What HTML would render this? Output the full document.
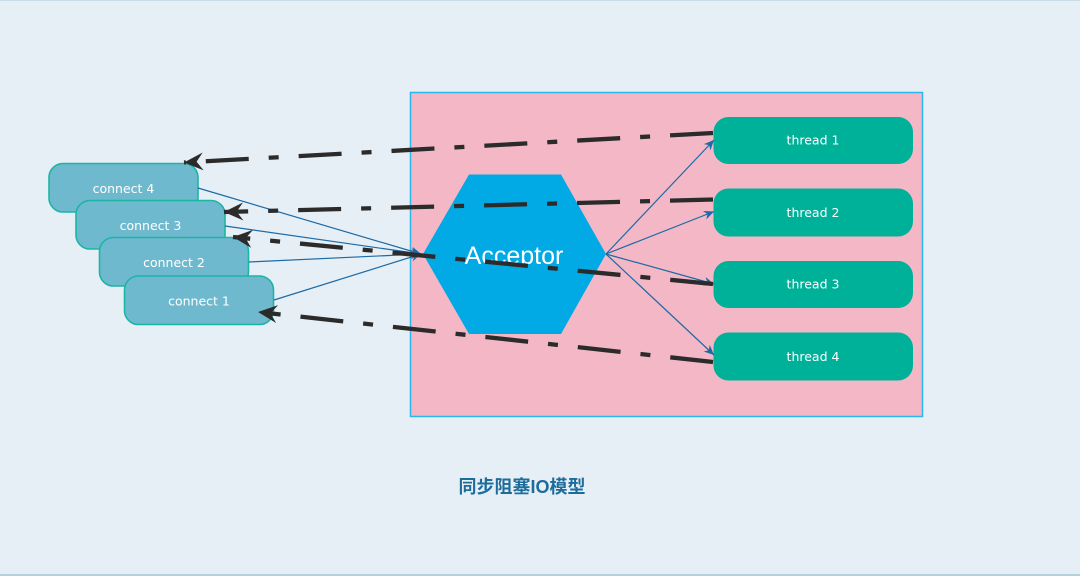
<!DOCTYPE html>
<html><head><meta charset="utf-8"><style>
html,body{margin:0;padding:0;}
body{width:1080px;height:576px;background:#e7eff6;overflow:hidden;position:relative;}
svg{position:absolute;left:0;top:0;}
</style></head><body>
<svg width="1080" height="576" viewBox="0 0 1080 576" xmlns="http://www.w3.org/2000/svg">
<defs>
<marker id="blk" markerUnits="userSpaceOnUse" markerWidth="24" markerHeight="24" refX="0" refY="0" viewBox="-18 -10 20 20" orient="auto">
<path d="M0,0 L-16,-7.5 L-10.5,0 L-16,7.5 Z" fill="#2b2b2b"/>
</marker>
<marker id="blu" markerUnits="userSpaceOnUse" markerWidth="14" markerHeight="14" refX="0" refY="0" viewBox="-12 -6 14 12" orient="auto">
<path d="M0,0 L-10,-4.5 L-7,0 L-10,4.5 Z" fill="#1c6aa6"/>
</marker>
<clipPath id="acc"><rect x="420" y="170" width="200" height="94"/></clipPath>
</defs>
<rect x="0" y="0" width="1080" height="1" fill="#c9dde8"/>
<rect x="0" y="574" width="1080" height="2" fill="#b3d0dc"/>

<!-- container -->
<rect x="410.5" y="92.5" width="512" height="324" fill="#f4b7c6" stroke="#2cb6ee" stroke-width="1.5"/>

<!-- connect boxes -->
<g fill="#6fb9cf" stroke="#1bb5a3" stroke-width="1.6">
<rect x="49" y="163.5" width="149" height="48.5" rx="14"/>
<rect x="76" y="200.5" width="149" height="48.5" rx="14"/>
<rect x="99.5" y="237.5" width="149" height="48.5" rx="14"/>
<rect x="124.5" y="276" width="149" height="48.5" rx="14"/>
</g>
<g fill="#fff" font-family="'DejaVu Sans',sans-serif" font-size="12.5" text-anchor="middle">
<text x="123.5" y="193">connect 4</text>
<text x="150.5" y="230">connect 3</text>
<text x="174" y="267">connect 2</text>
<text x="199" y="305.5">connect 1</text>
</g>

<!-- hexagon -->
<polygon points="423,254 469,174.5 561,174.5 606,254 561,334 469,334" fill="#02aae5"/>
<text x="514" y="264" clip-path="url(#acc)" fill="#fff" font-family="'Liberation Sans',sans-serif" font-size="25" text-anchor="middle">Acceptor</text>

<!-- threads -->
<g fill="#00b199">
<rect x="713.5" y="117" width="199.5" height="47" rx="15"/>
<rect x="713.5" y="188.5" width="199.5" height="48" rx="15"/>
<rect x="713.5" y="261" width="199.5" height="47" rx="15"/>
<rect x="713.5" y="332.5" width="199.5" height="48" rx="15"/>
</g>
<g fill="#fff" font-family="'DejaVu Sans',sans-serif" font-size="12.5" text-anchor="middle">
<text x="813" y="144.5">thread 1</text>
<text x="813" y="217">thread 2</text>
<text x="813" y="288.5">thread 3</text>
<text x="813" y="361">thread 4</text>
</g>

<!-- blue connectors -->
<g stroke="#1c6aa6" stroke-width="1.2" fill="none">
<line x1="198" y1="188" x2="421" y2="254" marker-end="url(#blu)"/>
<line x1="225" y1="226" x2="421" y2="254" marker-end="url(#blu)"/>
<line x1="249" y1="262" x2="421" y2="254" marker-end="url(#blu)"/>
<line x1="274" y1="300" x2="421" y2="254" marker-end="url(#blu)"/>
<line x1="606" y1="254" x2="714" y2="140" marker-end="url(#blu)"/>
<line x1="606" y1="254" x2="714" y2="211.5" marker-end="url(#blu)"/>
<line x1="606" y1="254" x2="714" y2="284" marker-end="url(#blu)"/>
<line x1="606" y1="254" x2="714" y2="355" marker-end="url(#blu)"/>
</g>

<!-- dashed return lines -->
<g stroke="#2b2b2b" stroke-width="4.3" fill="none" stroke-dasharray="43 20 10 20">
<line x1="713" y1="133" x2="184" y2="162.5" marker-end="url(#blk)"/>
<line x1="713" y1="199.5" x2="224" y2="212" marker-end="url(#blk)"/>
<line x1="713" y1="284" x2="233" y2="237" marker-end="url(#blk)"/>
<line x1="713" y1="362" x2="258" y2="312" marker-end="url(#blk)"/>
</g>

<text x="522" y="493" fill="#1d6c9c" font-family="'Liberation Sans','Noto Sans CJK SC',sans-serif" font-size="18" font-weight="bold" text-anchor="middle">同步阻塞IO模型</text>
</svg>
</body></html>
